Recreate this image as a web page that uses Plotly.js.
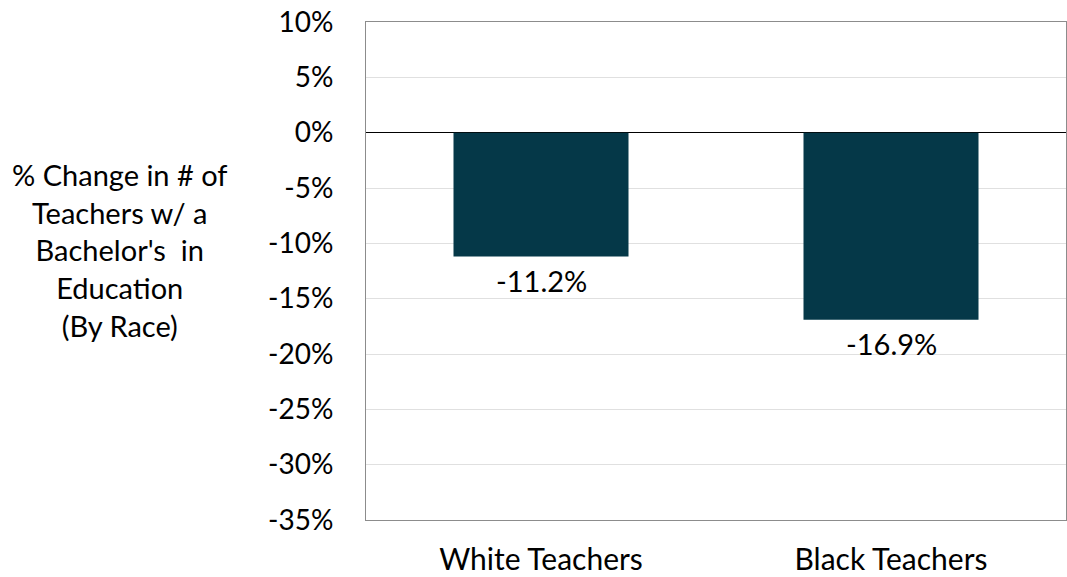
<!DOCTYPE html>
<html>
<head>
<meta charset="utf-8">
<script src="https://cdn.plot.ly/plotly-3.0.1.min.js"></script>
<style>
  html, body { margin: 0; padding: 0; background: #fff; }
  #chart { width: 1067px; height: 577px; }
</style>
</head>
<body>
<div id="chart"></div>
<script>
// Categories and percentage change values
const categories = ["White Teachers", "Black Teachers"];
const changePct = [-11.2, -16.9];
const yTickVals = [10, 5, 0, -5, -10, -15, -20, -25, -30, -35];
const yTickText = ["10%", "5%", "0%", "-5%", "-10%", "-15%", "-20%", "-25%", "-30%", "-35%"];
const yTitleLines = ["% Change in # of", "Teachers w/ a", "Bachelor's  in", "Education", "(By Race)"];

const FONT = "Lato, 'Noto Sans', sans-serif";

const trace = {
  type: "bar",
  x: categories,
  y: changePct,
  width: 0.5,
  marker: { color: "#053848" },
  hoverinfo: "skip"
};

// Value labels placed just below each bar end
const valueLabels = categories.map((c, i) => ({
  xref: "x",
  yref: "y",
  x: c,
  y: changePct[i],
  xanchor: "center",
  yanchor: "top",
  yshift: -4,
  text: changePct[i].toFixed(1) + "%",
  showarrow: false,
  font: { family: FONT, size: 29, color: "#000" }
}));

const layout = {
  width: 1067,
  height: 577,
  margin: { l: 366, r: 1, t: 22, b: 57 },
  paper_bgcolor: "#fff",
  plot_bgcolor: "#fff",
  showlegend: false,
  font: { family: FONT, size: 28, color: "#000" },
  xaxis: {
    type: "category",
    showline: true,
    mirror: true,
    linecolor: "#8c8c8c",
    linewidth: 1,
    ticks: "",
    ticklabelstandoff: 13,
    tickfont: { family: FONT, size: 30, color: "#000" },
    showgrid: false,
    zeroline: false
  },
  yaxis: {
    range: [-35, 10],
    tickvals: yTickVals,
    ticktext: yTickText,
    tickfont: { family: FONT, size: 28, color: "#000" },
    ticks: "",
    ticklabelstandoff: 26,
    showline: true,
    mirror: true,
    linecolor: "#8c8c8c",
    linewidth: 1,
    showgrid: true,
    gridcolor: "#e0e0e0",
    gridwidth: 1,
    zeroline: true,
    zerolinecolor: "#000",
    zerolinewidth: 1,
    fixedrange: true
  },
  bargap: 0.5,
  annotations: [{
    xref: "paper",
    yref: "paper",
    x: -0.351,
    y: 0.542,
    xanchor: "center",
    yanchor: "middle",
    text: yTitleLines.join("<br>"),
    showarrow: false,
    align: "center",
    font: { family: FONT, size: 29, color: "#000" }
  }].concat(valueLabels)
};

Plotly.newPlot("chart", [trace], layout, { displayModeBar: false, staticPlot: true });
</script>
</body>
</html>
